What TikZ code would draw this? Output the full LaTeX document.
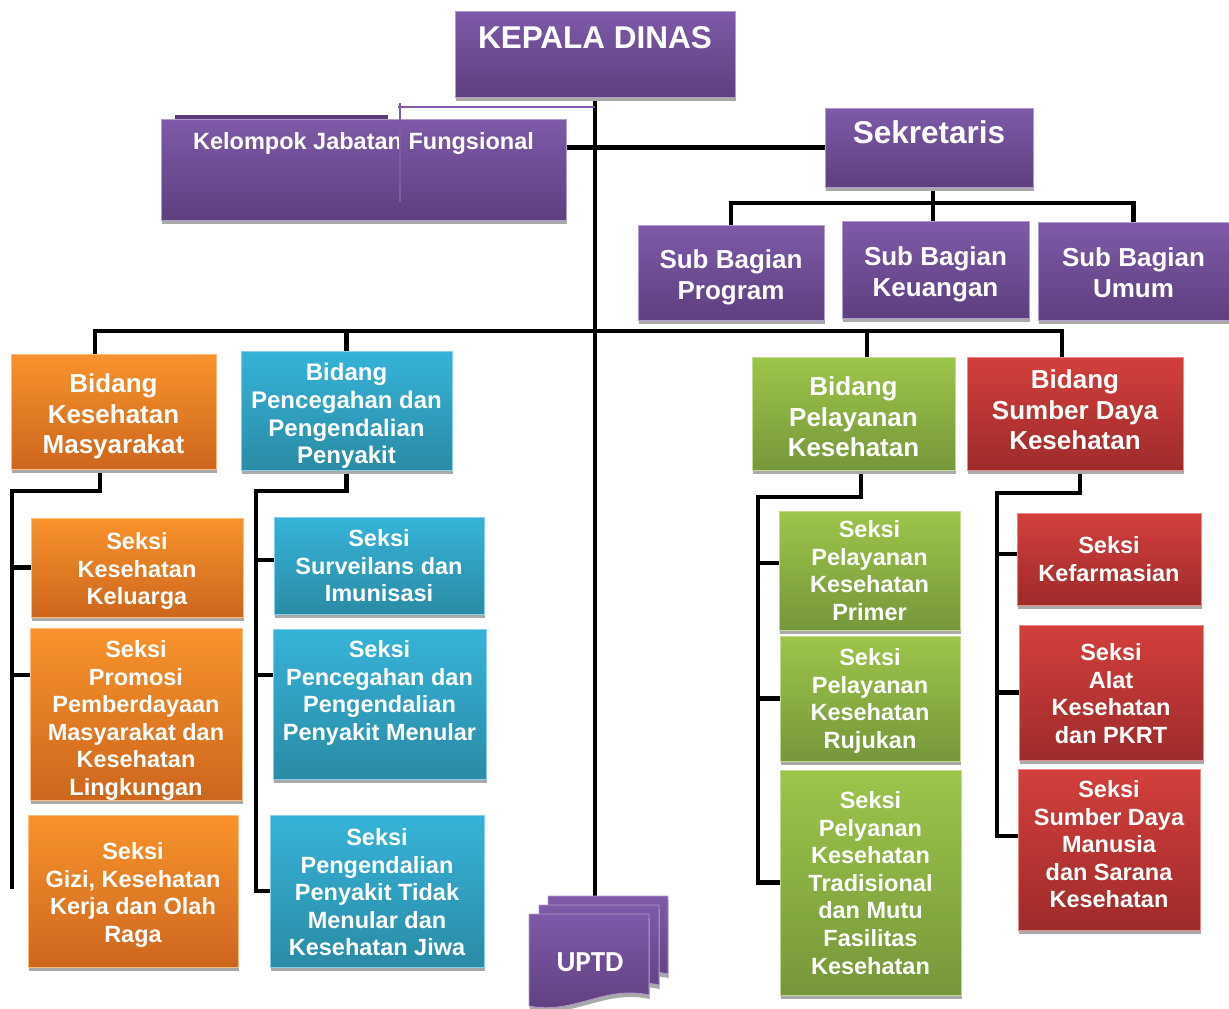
\documentclass[tikz,border=0pt]{standalone}
\usepackage{fontspec}
\setmainfont{Liberation Sans}
\newfontfamily\uptdfont{Carlito}
\usetikzlibrary{
  backgrounds,
  shadows
}
\definecolor{dinasPurpleTop}{HTML}{7E5AA8}
\definecolor{dinasPurpleBot}{HTML}{5E3F7F}
\definecolor{dinasPurpleDark}{HTML}{5A3D7A}
\definecolor{dinasOrangeTop}{HTML}{F8932C}
\definecolor{dinasOrangeBot}{HTML}{CD661D}
\definecolor{dinasCyanTop}{HTML}{36B3D9}
\definecolor{dinasCyanBot}{HTML}{2A8BA5}
\definecolor{dinasGreenTop}{HTML}{9CC54A}
\definecolor{dinasGreenBot}{HTML}{76973A}
\definecolor{dinasRedTop}{HTML}{D33F3C}
\definecolor{dinasRedBot}{HTML}{9E2B2B}
\definecolor{dinasShadow}{HTML}{A9A9A9}
\tikzset{
  every node/.style={text=white},
  unit/.style={
    rectangle,
    inner sep=0pt,
    align=center,
    line width=0.8pt,
    drop shadow={shadow xshift=0.5pt, shadow yshift=-4pt, fill=dinasShadow, opacity=1}
  },
  purpleunit/.style={unit, top color=dinasPurpleTop, bottom color=dinasPurpleBot, draw=dinasPurpleTop!60!white},
  orangeunit/.style={unit, top color=dinasOrangeTop, bottom color=dinasOrangeBot, draw=dinasOrangeTop!60!white},
  cyanunit/.style={unit, top color=dinasCyanTop, bottom color=dinasCyanBot, draw=dinasCyanTop!60!white},
  greenunit/.style={unit, top color=dinasGreenTop, bottom color=dinasGreenBot, draw=dinasGreenTop!60!white},
  redunit/.style={unit, top color=dinasRedTop, bottom color=dinasRedBot, draw=dinasRedTop!60!white},
  headtext/.style={font=\fontsize{31.5}{36}\selectfont\bfseries},
  subtext/.style={font=\fontsize{26}{31}\selectfont\bfseries},
  bidtext/.style={font=\fontsize{26}{30.5}\selectfont\bfseries},
  seksitext/.style={font=\fontsize{23.5}{27.6}\selectfont\bfseries},
  uptdlayer/.style={
    top color=dinasPurpleTop,
    bottom color=dinasPurpleBot,
    draw=dinasPurpleTop!60!white,
    line width=0.8pt,
    drop shadow={shadow xshift=0.5pt, shadow yshift=-4pt, fill=dinasShadow, opacity=1}
  },
  wire/.style={line width=4.5pt, draw=black},
  thinwire/.style={line width=1.2pt, draw=dinasPurpleTop}
}

\begin{document}
\begin{tikzpicture}[x=1pt, y=-1pt]
  \useasboundingbox (0,0) rectangle (1229,1009);

  \node[purpleunit, headtext, minimum width=280pt, text height=37pt, text depth=49pt] (kadis) at (595,54) {KEPALA DINAS};
  \node[purpleunit, font=\fontsize{23.5}{28}\selectfont\bfseries, minimum width=405pt, text height=30.5pt, text depth=70.5pt] (jfung) at (363.5,169.5) {Kelompok Jabatan Fungsional};
  \node[purpleunit, headtext, minimum width=208pt, text height=35pt, text depth=44pt] (sekre) at (929,147.5) {Sekretaris};

  \node[purpleunit, subtext, minimum width=186pt, text height=74.5pt, text depth=20.5pt] (sbprog) at (731,272.5) {Sub Bagian\\Program};
  \node[purpleunit, subtext, minimum width=187pt, text height=75.5pt, text depth=21.5pt] (sbkeu) at (935.5,269.5) {Sub Bagian\\Keuangan};
  \node[purpleunit, subtext, minimum width=191pt, text height=75.5pt, text depth=22.5pt] (sbumum) at (1133.5,271) {Sub Bagian\\Umum};

  \node[orangeunit, bidtext, minimum width=205pt, text height=99.5pt, text depth=15.5pt] (bkm) at (113.5,411.5) {Bidang\\Kesehatan\\Masyarakat};
  \node[cyanunit, font=\fontsize{24}{27.7}\selectfont\bfseries, minimum width=211pt, text height=112.8pt, text depth=6.2pt] (bp2p) at (346.5,410.5) {Bidang\\Pencegahan dan\\Pengendalian\\Penyakit};
  \node[greenunit, bidtext, minimum width=203pt, text height=99.5pt, text depth=13.5pt] (bpk) at (853.5,413.5) {Bidang\\Pelayanan\\Kesehatan};
  \node[redunit, bidtext, minimum width=216pt, text height=92.5pt, text depth=20.5pt] (bsdk) at (1075,413.5) {Bidang\\Sumber Daya\\Kesehatan};

  \node[orangeunit, seksitext, minimum width=212pt, text height=86.7pt, text depth=12.3pt] (skk) at (137,567.5) {Seksi\\Kesehatan\\Keluarga};
  \node[orangeunit, seksitext, minimum width=212pt, text height=167.5pt, text depth=4.5pt] (sprom) at (136,714) {Seksi\\Promosi\\Pemberdayaan\\Masyarakat dan\\Kesehatan\\Lingkungan};
  \node[orangeunit, seksitext, minimum width=210pt, text height=127.3pt, text depth=24.7pt] (sgizi) at (133,891) {Seksi\\Gizi, Kesehatan\\Kerja dan Olah\\Raga};

  \node[cyanunit, seksitext, minimum width=210pt, text height=84.7pt, text depth=12.3pt] (ssi) at (379,565.5) {Seksi\\Surveilans dan\\Imunisasi};
  \node[cyanunit, seksitext, minimum width=213pt, text height=111.3pt, text depth=38.7pt] (spm) at (379.5,704) {Seksi\\Pencegahan dan\\Pengendalian\\Penyakit Menular};
  \node[cyanunit, seksitext, minimum width=214pt, text height=140.9pt, text depth=11.1pt] (sptm) at (377,891) {Seksi\\Pengendalian\\Penyakit Tidak\\Menular dan\\Kesehatan Jiwa};

  \node[greenunit, seksitext, minimum width=181pt, text height=109.3pt, text depth=9.7pt] (spkp) at (869.5,570.5) {Seksi\\Pelayanan\\Kesehatan\\Primer};
  \node[greenunit, seksitext, minimum width=180pt, text height=112.3pt, text depth=12.7pt] (spkr) at (870,698.5) {Seksi\\Pelayanan\\Kesehatan\\Rujukan};
  \node[greenunit, seksitext, minimum width=181pt, text height=204.1pt, text depth=20.9pt] (spkt) at (870.5,882.5) {Seksi\\Pelyanan\\Kesehatan\\Tradisional\\dan Mutu\\Fasilitas\\Kesehatan};

  \node[redunit, seksitext, minimum width=184pt, text height=68.1pt, text depth=23.9pt] (skef) at (1109,559) {Seksi\\Kefarmasian};
  \node[redunit, seksitext, minimum width=184pt, text height=118.3pt, text depth=16.7pt] (salk) at (1111,692.5) {Seksi\\Alat\\Kesehatan\\dan PKRT};
  \node[redunit, seksitext, minimum width=182pt, text height=138.9pt, text depth=22.1pt] (ssdm) at (1109,849.5) {Seksi\\Sumber Daya\\Manusia\\dan Sarana\\Kesehatan};

  \begin{scope}[shift={(548,896)}]
    \path[uptdlayer] (0,0) -- (120,0) -- (120,78) .. controls (75,68) and (45,98) .. (0,88) -- cycle;
  \end{scope}
  \begin{scope}[shift={(539,905)}]
    \path[uptdlayer] (0,0) -- (120,0) -- (120,80) .. controls (75,70) and (45,100) .. (0,90) -- cycle;
  \end{scope}
  \begin{scope}[shift={(529,914)}]
    \path[uptdlayer] (0,0) -- (120,0) -- (120,81) .. controls (75,71) and (45,101) .. (0,92) -- cycle;
  \end{scope}
  \node[font=\uptdfont\fontsize{29}{33}\selectfont\bfseries] (uptd) at (590,962) {UPTD};
  \coordinate (uptdtop) at (595,896);

  \draw[thinwire] (398,107) -- (kadis.south |- 0,107);
  \draw[thinwire] (400,103) -- (400,202);

  \begin{scope}[on background layer]
    \fill[dinasPurpleDark] (175,115) rectangle (388,121);
    \draw[wire] (kadis.south) -- (uptdtop);
    \draw[wire] (jfung.east |- sekre.west) -- (sekre.west);

    \coordinate (sekbus) at (933,203);
    \draw[wire] (sekre.south -| sekbus) -- (sekbus) -- (sekbus |- sbkeu.north);
    \draw[wire] (sbprog.north) |- (sekbus) -| (sbumum.north);

    \coordinate (bus) at (595,331);
    \draw[wire] ([xshift=-18.5pt]bkm.north) |- (bus) -| ([xshift=-13pt]bsdk.north);
    \draw[wire] (bp2p.north) -- (bp2p.north |- bus);
    \draw[wire] ([xshift=13.5pt]bpk.north) -- ([xshift=13.5pt]bpk.north |- bus);

    \coordinate (kmrail) at (12,491);
    \coordinate (kmend) at (12,889);
    \draw[wire] ([xshift=-13.5pt]bkm.south) |- (kmrail) -- (kmend);
    \draw[wire] (skk.west -| kmrail) -- (skk.west);
    \draw[wire] ([yshift=39pt]sprom.west -| kmrail) -- ([yshift=39pt]sprom.west);

    \coordinate (pprail) at (256,491);
    \draw[wire] (bp2p.south) |- (pprail) -- (sptm.west -| pprail) -- (sptm.west);
    \draw[wire] ([yshift=5.5pt]ssi.west -| pprail) -- ([yshift=5.5pt]ssi.west);
    \draw[wire] ([yshift=29pt]spm.west -| pprail) -- ([yshift=29pt]spm.west);

    \coordinate (pkrail) at (758,497);
    \draw[wire] ([xshift=7.5pt]bpk.south) |- (pkrail) -- (spkt.west -| pkrail) -- (spkt.west);
    \draw[wire] ([yshift=7.5pt]spkp.west -| pkrail) -- ([yshift=7.5pt]spkp.west);
    \draw[wire] (spkr.west -| pkrail) -- (spkr.west);

    \coordinate (sdrail) at (997,493);
    \draw[wire] ([xshift=5pt]bsdk.south) |- (sdrail) -- ([yshift=13.5pt]ssdm.west -| sdrail) -- ([yshift=13.5pt]ssdm.west);
    \draw[wire] ([yshift=5pt]skef.west -| sdrail) -- ([yshift=5pt]skef.west);
    \draw[wire] (salk.west -| sdrail) -- (salk.west);
  \end{scope}
\end{tikzpicture}
\end{document}
